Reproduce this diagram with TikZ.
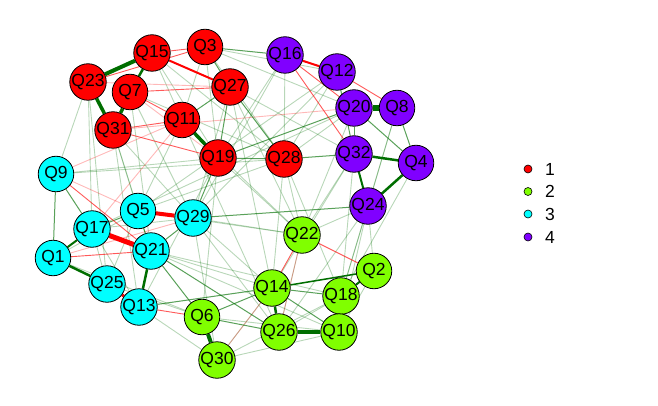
\documentclass[tikz,border=0pt]{standalone}
\usepackage{fontspec}
\setmainfont{Liberation Sans}
\pgfdeclarelayer{bg}
\pgfsetlayers{bg,main}
\definecolor{c1}{RGB}{255,0,0}
\definecolor{c2}{RGB}{128,255,0}
\definecolor{c3}{RGB}{0,255,255}
\definecolor{c4}{RGB}{128,0,255}
\definecolor{gdk}{RGB}{0,110,0}
\tikzset{
  qn/.style={circle,draw=black,line width=0.8pt,minimum size=35.5pt,inner sep=0pt,font=\fontsize{17.5}{17.5}\selectfont},
  pos/.style={draw=gdk,line width=#1},
  neg/.style={draw=red,line width=#1},
  faint/.style={draw opacity=0.28},
  weak/.style={draw opacity=0.65},
  legdot/.style={circle,draw=black,line width=0.6pt,minimum size=8pt,inner sep=0pt},
  legtxt/.style={anchor=west,inner sep=0pt,font=\fontsize{17.5}{17.5}\selectfont}
}
\begin{document}
\begin{tikzpicture}[x=1pt,y=-1pt]
\useasboundingbox (0,0) rectangle (658,406);
% nodes
\node[qn,fill=c1] (Q15) at (152,53) {Q15};
\node[qn,fill=c1] (Q3) at (205,47) {Q3};
\node[qn,fill=c1] (Q23) at (88,82) {Q23};
\node[qn,fill=c1] (Q7) at (130,92) {Q7};
\node[qn,fill=c1] (Q27) at (230,87) {Q27};
\node[qn,fill=c1] (Q31) at (113,130) {Q31};
\node[qn,fill=c1] (Q11) at (182,120) {Q11};
\node[qn,fill=c1] (Q19) at (218,158) {Q19};
\node[qn,fill=c1] (Q28) at (284,159) {Q28};
\node[qn,fill=c4] (Q16) at (285,55) {Q16};
\node[qn,fill=c4] (Q12) at (337,72) {Q12};
\node[qn,fill=c4] (Q20) at (354,108) {Q20};
\node[qn,fill=c4] (Q8) at (397,108) {Q8};
\node[qn,fill=c4] (Q32) at (354,154) {Q32};
\node[qn,fill=c4] (Q4) at (416,163) {Q4};
\node[qn,fill=c4] (Q24) at (368,206) {Q24};
\node[qn,fill=c3] (Q9) at (56,174) {Q9};
\node[qn,fill=c3] (Q5) at (138,211) {Q5};
\node[qn,fill=c3] (Q29) at (193,218) {Q29};
\node[qn,fill=c3] (Q17) at (92,229) {Q17};
\node[qn,fill=c3] (Q21) at (151,251) {Q21};
\node[qn,fill=c3] (Q1) at (53,258) {Q1};
\node[qn,fill=c3] (Q25) at (107,284) {Q25};
\node[qn,fill=c3] (Q13) at (139,307) {Q13};
\node[qn,fill=c2] (Q6) at (202,317) {Q6};
\node[qn,fill=c2] (Q30) at (217,360) {Q30};
\node[qn,fill=c2] (Q22) at (302,235) {Q22};
\node[qn,fill=c2] (Q2) at (374,271) {Q2};
\node[qn,fill=c2] (Q14) at (272,288) {Q14};
\node[qn,fill=c2] (Q18) at (341,296) {Q18};
\node[qn,fill=c2] (Q26) at (279,332) {Q26};
\node[qn,fill=c2] (Q10) at (339,332) {Q10};
% legend
\node[legdot,fill=c1] (L1) at (528,169) {};
\node[legdot,fill=c2] (L2) at (528,191.5) {};
\node[legdot,fill=c3] (L3) at (528,214) {};
\node[legdot,fill=c4] (L4) at (528,237) {};
\node[legtxt] (T1) at (545,169) {1};
\node[legtxt] (T2) at (545,191.5) {2};
\node[legtxt] (T3) at (545,214) {3};
\node[legtxt] (T4) at (545,237) {4};
% edges
\begin{pgfonlayer}{bg}
\foreach \a/\b in {Q23/Q17,Q23/Q25,Q31/Q5,Q31/Q21,Q31/Q13,Q7/Q29,Q7/Q21,Q9/Q19,Q9/Q28,Q15/Q19,Q15/Q28,Q3/Q11,Q3/Q19,Q3/Q28,Q3/Q12,Q3/Q20,Q27/Q29,Q27/Q22,Q27/Q32,Q27/Q14,Q11/Q5,Q11/Q22,Q11/Q26,Q19/Q22,Q19/Q6,Q19/Q13,Q28/Q22,Q28/Q14,Q28/Q18,Q28/Q5,Q28/Q20,Q16/Q28,Q16/Q19,Q16/Q29,Q12/Q28,Q12/Q29,Q12/Q5,Q20/Q22,Q20/Q17,Q32/Q22,Q32/Q14,Q32/Q18,Q8/Q24,Q8/Q18,Q4/Q18,Q24/Q18,Q24/Q22,Q24/Q10,Q24/Q26,Q29/Q14,Q29/Q22,Q29/Q26,Q29/Q30,Q5/Q22,Q5/Q1,Q5/Q25,Q17/Q25,Q17/Q13,Q21/Q14,Q21/Q10,Q21/Q18,Q13/Q30,Q25/Q6,Q1/Q6,Q6/Q10,Q30/Q10,Q30/Q18,Q30/Q14,Q26/Q18,Q22/Q26,Q2/Q10,Q2/Q24,Q7/Q28,Q15/Q11,Q23/Q9,Q31/Q29,Q17/Q29}
  \draw[pos=0.9,faint] (\a) -- (\b);
\foreach \a/\b in {Q9/Q11,Q31/Q20,Q7/Q19,Q1/Q29,Q22/Q26,Q14/Q30,Q9/Q5,Q23/Q27,Q17/Q11}
  \draw[neg=0.9,faint] (\a) -- (\b);
\foreach \a/\b in {Q3/Q16,Q19/Q28,Q27/Q28,Q19/Q20,Q28/Q32,Q29/Q24,Q13/Q14,Q14/Q18,Q6/Q26,Q21/Q6,Q21/Q26,Q9/Q17,Q9/Q1,Q5/Q17,Q14/Q10,Q18/Q10,Q8/Q4,Q20/Q4,Q20/Q32,Q12/Q32,Q27/Q19,Q27/Q11,Q3/Q27,Q21/Q29,Q5/Q21,Q6/Q14,Q19/Q29}
  \draw[pos=1,weak] (\a) -- (\b);
\foreach \a/\b in {Q15/Q3,Q23/Q3,Q7/Q27,Q7/Q11,Q31/Q11,Q31/Q19,Q22/Q2,Q16/Q32,Q16/Q20,Q12/Q8,Q13/Q6,Q9/Q21,Q1/Q21,Q22/Q14}
  \draw[neg=0.9,weak] (\a) -- (\b);
\draw[pos=4] (Q15) -- (Q23);
\draw[pos=3.5] (Q23) -- (Q31);
\draw[pos=3.5] (Q7) -- (Q31);
\draw[pos=2.5] (Q7) -- (Q15);
\draw[pos=3.5] (Q11) -- (Q19);
\draw[pos=6] (Q20) -- (Q8);
\draw[pos=2.5] (Q32) -- (Q4);
\draw[pos=2.5] (Q4) -- (Q24);
\draw[pos=2] (Q32) -- (Q24);
\draw[pos=2] (Q17) -- (Q1);
\draw[pos=2.5] (Q1) -- (Q25);
\draw[pos=2.5] (Q21) -- (Q13);
\draw[pos=4] (Q26) -- (Q10);
\draw[pos=4] (Q6) -- (Q30);
\draw[pos=2.5] (Q14) -- (Q26);
\draw[pos=2] (Q2) -- (Q18);
\draw[pos=1.5] (Q14) -- (Q2);
\draw[neg=4] (Q5) -- (Q29);
\draw[neg=5] (Q17) -- (Q21);
\draw[neg=3] (Q25) -- (Q13);
\draw[neg=2] (Q15) -- (Q27);
\draw[neg=2] (Q16) -- (Q12);
\end{pgfonlayer}
\end{tikzpicture}
\end{document}
